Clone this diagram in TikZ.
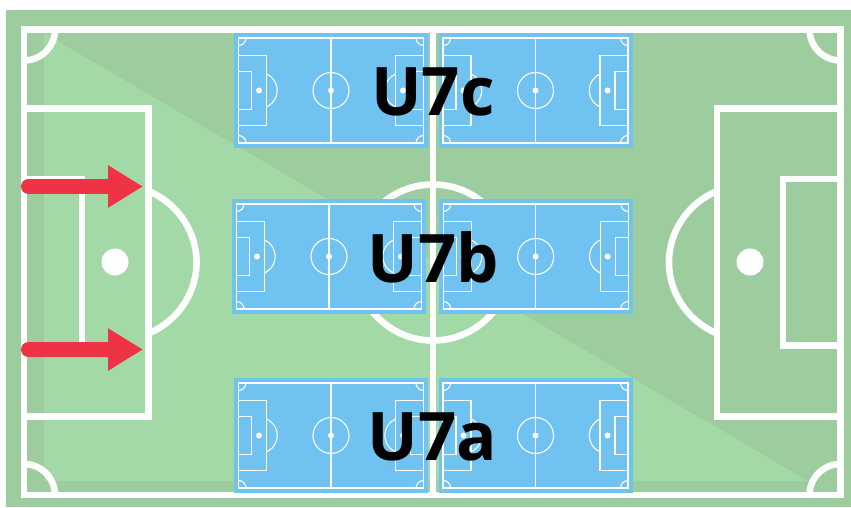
\documentclass[tikz,border=0pt]{standalone}
\usepackage{fontspec}
\setmainfont{Open Sans}
\usetikzlibrary{arrows.meta}
\definecolor{grassdark}{RGB}{157,205,159}
\definecolor{grasslight}{RGB}{163,216,167}
\definecolor{minipitchblue}{RGB}{112,195,240}
\definecolor{arrowred}{RGB}{238,51,68}
\tikzset{
  bigline/.style={draw=white,line width=6.6pt},
  miniline/.style={draw=white,line width=1.1pt},
  teamlabel/.style={font=\bfseries\fontsize{67}{67}\selectfont,text=black,anchor=base,inner sep=0pt},
  pusharrow/.style={draw=arrowred,line width=15pt,line cap=round,-{Triangle[length=35pt,width=40pt,sharp]}},
  pics/minipitch/.style={code={
    % bleu
    \fill[minipitchblue] (-97,-57.5) rectangle (97,57.5);
    \draw[miniline] (-92.5,-52.5) rectangle (92.5,52.5);
    \draw[miniline] (0,-52.5) -- (0,52.5);
    \draw[miniline] (0,0) circle[radius=18pt];
    \fill[white] (0,0) circle[radius=3pt];
    % deux moitiés
    \foreach \side in {-1,1}{
      \begin{scope}[xscale=\side]
        \draw[miniline] (-92.5,-35) rectangle (-64.5,35);
        \draw[miniline] (-92.5,-19) rectangle (-79.5,19);
        \fill[white] (-72,0) circle[radius=3pt];
        \draw[miniline] (-64.5,16.5) arc[start angle=66,end angle=-66,radius=18pt];
        \draw[miniline] (-92.5,45) arc[start angle=-90,end angle=0,radius=7.5pt];
        \draw[miniline] (-92.5,-45) arc[start angle=90,end angle=0,radius=7.5pt];
      \end{scope}
    }
  }}
}
\begin{document}
\begin{tikzpicture}[x=1pt,y=1pt]
    \useasboundingbox (0,0) rectangle (851,507);

    % Terrain
    \fill[grassdark] (6,0) rectangle (851,497);
    \fill[grasslight] (44,474) -- (808,26) -- (44,26) -- cycle;

    % Lignes
    \draw[bigline] (24,12) rectangle (840.5,477.5);
    \draw[bigline] (433,12) -- (433,477.5);
    \draw[bigline] (433,244.5) circle[radius=78pt];
    \draw[bigline] (24,90.5) -| (148.5,398.5) -- (24,398.5);
    \draw[bigline] (24,162) -| (82,328) -- (24,328);
    \draw[bigline] (840.5,90.5) -| (717,398.5) -- (840.5,398.5);
    \draw[bigline] (840.5,161.5) -| (783,328) -- (840.5,328);
    \fill[white] (115,245) circle[radius=13.5pt];
    \fill[white] (750,245) circle[radius=13.5pt];
    \draw[bigline] (148.5,316) arc[start angle=66,end angle=-66,x radius=81pt,y radius=78pt];
    \draw[bigline] (717,316) arc[start angle=114,end angle=246,x radius=81pt,y radius=78pt];

    % Coins
    \draw[bigline] (55,477.5) arc[start angle=0,end angle=-90,radius=31pt];
    \draw[bigline] (55,12) arc[start angle=0,end angle=90,radius=31pt];
    \draw[bigline] (809.5,477.5) arc[start angle=180,end angle=270,radius=31pt];
    \draw[bigline] (809.5,12) arc[start angle=180,end angle=90,radius=31pt];

    % Petits terrains
    \pic at (331,416.5) {minipitch};
    \pic at (535.5,416.5) {minipitch};
    \pic at (329,250.5) {minipitch};
    \pic at (535.7,250.5) {minipitch};
    \pic at (331,71.5) {minipitch};
    \pic at (535.5,71.5) {minipitch};

    % Equipes
    \node[teamlabel] (teamc) at (432.8,391) {U7c};
    \node[teamlabel] (teamb) at (433,225) {U7b};
    \node[teamlabel] (teama) at (432.5,47) {U7a};

    % Fleches
    \coordinate (topfrom) at (28.5,320.5);
    \coordinate (topto) at (143,320.5);
    \coordinate (lowfrom) at (28.5,157.5);
    \coordinate (lowto) at (143,157.5);
    \draw[pusharrow] (topfrom) -- (topto);
    \draw[pusharrow] (lowfrom) -- (lowto);
\end{tikzpicture}
\end{document}
